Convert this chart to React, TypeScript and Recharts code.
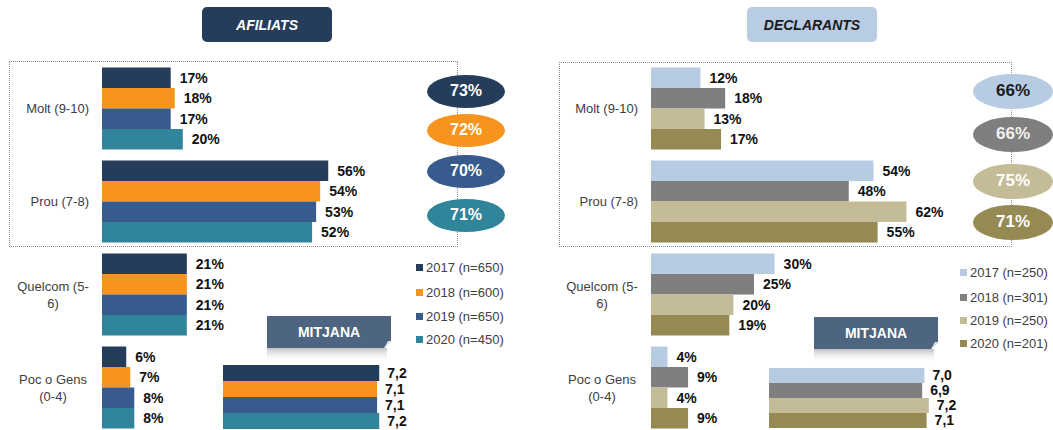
import React from "react";
import { BarChart, Bar, XAxis, YAxis, LabelList } from "recharts";

const FONT = '"Liberation Sans", Arial, sans-serif';

const categories = ["Molt (9-10)", "Prou (7-8)", "Quelcom (5-\n6)", "Poc o Gens\n(0-4)"];
const years = ["2017", "2018", "2019", "2020"];

const afiliats2017 = [17, 56, 21, 6];
const afiliats2018 = [18, 54, 21, 7];
const afiliats2019 = [17, 53, 21, 8];
const afiliats2020 = [20, 52, 21, 8];
const afiliatsTotal = [73, 72, 70, 71];
const afiliatsMitjana = [7.2, 7.1, 7.1, 7.2];
const afiliatsN = [650, 600, 650, 450];

const declarants2017 = [12, 54, 30, 4];
const declarants2018 = [18, 48, 25, 9];
const declarants2019 = [13, 62, 20, 4];
const declarants2020 = [17, 55, 19, 9];
const declarantsTotal = [66, 66, 75, 71];
const declarantsMitjana = [7.0, 6.9, 7.2, 7.1];
const declarantsN = [250, 301, 250, 201];

const afiliatsColors = ["#253d5b", "#f7941e", "#375b8d", "#31859b"];
const declarantsColors = ["#b7cbe3", "#7f7f7f", "#c4bc96", "#958a54"];
const declarantsTotalText = ["#1a1a1a", "#f2f2f2", "#ffffff", "#ffffff"];

const AXIS_W = 100;
const keys = ["s0", "s1", "s2", "s3"];

function buildRows(series: number[][]) {
  return categories.map((cat, i) => {
    const row: any = { cat };
    series.forEach((s, k) => (row[keys[k]] = s[i]));
    return row;
  });
}

function buildMean(values: number[]) {
  const row: any = { cat: "Mitjana" };
  values.forEach((v, k) => (row[keys[k]] = v));
  return [row];
}

const CatTick = (props: any) => {
  const { y, payload } = props;
  const lines = String(payload.value).split("\n");
  const common = { fontFamily: FONT, fontSize: 13, fill: "#404040" };
  if (lines.length === 1) {
    return (
      <text {...common} x={AXIS_W - 13} y={y + 4.5} textAnchor="end">
        {lines[0]}
      </text>
    );
  }
  return (
    <text {...common} textAnchor="middle">
      <tspan x={AXIS_W - 49} y={y - 8 + 4.5}>{lines[0]}</tspan>
      <tspan x={AXIS_W - 49} y={y + 9 + 4.5}>{lines[1]}</tspan>
    </text>
  );
};

const pct = (v: any) => `${v}%`;
const dec = (v: any) => Number(v).toFixed(1).replace(".", ",");

function MainChart({ series, colors, left, pxPer }: { series: number[][]; colors: string[]; left: number; pxPer: number }) {
  const plotW = 80 * pxPer;
  const width = 430;
  return (
    <div style={{ position: "absolute", left, top: 0 }}>
      <BarChart
        width={width}
        height={440}
        layout="vertical"
        data={buildRows(series)}
        margin={{ top: 61.5, bottom: 6.5, left: 0, right: width - AXIS_W - plotW }}
        barGap={0}
        barSize={20.5}
      >
        <XAxis type="number" domain={[0, 80]} hide />
        <YAxis type="category" dataKey="cat" width={AXIS_W} axisLine={false} tickLine={false} interval={0} tick={<CatTick />} />
        {keys.map((k, i) => (
          <Bar key={k} dataKey={k} fill={colors[i]} isAnimationActive={false}>
            <LabelList dataKey={k} position="right" offset={9} formatter={pct} fill="#111" fontSize={14} fontWeight="bold" fontFamily={FONT} />
          </Bar>
        ))}
      </BarChart>
    </div>
  );
}

function MeanChart({ values, colors, left, top, barH, pxPer }: { values: number[]; colors: string[]; left: number; top: number; barH: number; pxPer: number }) {
  const plotW = 9 * pxPer;
  const width = 210;
  // a little spare room in the band so the bars keep their full size
  const height = barH * 4 + 4;
  return (
    <div style={{ position: "absolute", left, top: top - 2 }}>
      <BarChart
        width={width}
        height={height}
        layout="vertical"
        data={buildMean(values)}
        margin={{ top: 0, bottom: 0, left: 0, right: width - plotW }}
        barGap={0}
        barCategoryGap={0}
        barSize={barH}
      >
        <XAxis type="number" domain={[0, 9]} hide />
        <YAxis type="category" dataKey="cat" hide />
        {keys.map((k, i) => (
          <Bar key={k} dataKey={k} fill={colors[i]} isAnimationActive={false}>
            <LabelList dataKey={k} position="right" offset={8} formatter={dec} fill="#111" fontSize={14} fontWeight="bold" fontFamily={FONT} />
          </Bar>
        ))}
      </BarChart>
    </div>
  );
}

function TitleBox({ text, left, bg, color }: { text: string; left: number; bg: string; color: string }) {
  return (
    <div
      style={{
        position: "absolute", left, top: 7, width: 130, height: 35, background: bg, borderRadius: 5,
        color, fontFamily: FONT, fontWeight: "bold", fontStyle: "italic", fontSize: 14,
        display: "flex", alignItems: "center", justifyContent: "center",
      }}
    >
      {text}
    </div>
  );
}

function Banner({ left, top }: { left: number; top: number }) {
  return (
    <svg style={{ position: "absolute", left, top }} width={126} height={48}>
      <defs>
        <linearGradient id={`sh${left}`} x1="0" y1="0" x2="0" y2="1">
          <stop offset="0%" stopColor="#8c8c8c" stopOpacity={0.55} />
          <stop offset="100%" stopColor="#ffffff" stopOpacity={0} />
        </linearGradient>
      </defs>
      <rect x={0} y={32} width={120} height={14} fill={`url(#sh${left})`} />
      <path d="M0,0 H124 V25 L117,32 H0 Z" fill="#4d6580" />
      <path d="M124,25 L117,32 L121,25 Z" fill="#dfe4ea" />
      <text x={62} y={21} textAnchor="middle" fill="#fff" fontFamily={FONT} fontWeight="bold" fontSize={14}>MITJANA</text>
    </svg>
  );
}

function Ovals({ values, colors, textColors, cx, cys, rx, ry, fontSize }: { values: number[]; colors: string[]; textColors: string[]; cx: number; cys: number[]; rx: number; ry: number; fontSize: number }) {
  return (
    <>
      {values.map((v, i) => (
        <div
          key={i}
          style={{
            position: "absolute", left: cx - rx, top: cys[i] - ry, width: rx * 2, height: ry * 2, borderRadius: "50%",
            background: colors[i], color: textColors[i], fontFamily: FONT, fontWeight: "bold", fontSize,
            display: "flex", alignItems: "center", justifyContent: "center",
          }}
        >
          {v}%
        </div>
      ))}
    </>
  );
}

function Legend({ n, colors, left, tops }: { n: number[]; colors: string[]; left: number; tops: number[] }) {
  return (
    <>
      {years.map((y, i) => (
        <div key={y} style={{ position: "absolute", left, top: tops[i] - 8, height: 16, display: "flex", alignItems: "center", fontFamily: FONT, fontSize: 13, color: "#404040", whiteSpace: "nowrap" }}>
          <span style={{ display: "inline-block", width: 7, height: 7, background: colors[i], marginRight: 3 }} />
          {y} (n={n[i]})
        </div>
      ))}
    </>
  );
}

export default function App() {
  return (
    <div style={{ position: "absolute", left: 0, top: 0, width: 1053, height: 430, overflow: "hidden", background: "#fff" }}>
      <TitleBox text="AFILIATS" left={202} bg="#253d5b" color="#fff" />
      <TitleBox text="DECLARANTS" left={747} bg="#b8cce4" color="#1a1a1a" />

      <div style={{ position: "absolute", left: 9, top: 61, width: 449, height: 186, border: "1px dotted #8c8c8c", boxSizing: "border-box" }} />
      <div style={{ position: "absolute", left: 559, top: 62, width: 453, height: 185, border: "1px dotted #8c8c8c", boxSizing: "border-box" }} />

      <MainChart series={[afiliats2017, afiliats2018, afiliats2019, afiliats2020]} colors={afiliatsColors} left={2} pxPer={4.04} />
      <MainChart series={[declarants2017, declarants2018, declarants2019, declarants2020]} colors={declarantsColors} left={551} pxPer={4.12} />

      <Banner left={267} top={316} />
      <Banner left={814} top={317} />

      <MeanChart values={afiliatsMitjana} colors={afiliatsColors} left={223} top={365} barH={16} pxPer={21.7} />
      <MeanChart values={declarantsMitjana} colors={declarantsColors} left={769} top={368} barH={15} pxPer={22.2} />

      <Ovals values={afiliatsTotal} colors={afiliatsColors} textColors={["#fff", "#fff", "#fff", "#fff"]} cx={466} cys={[91, 130, 171, 215]} rx={39} ry={16.5} fontSize={16} />
      <Ovals values={declarantsTotal} colors={declarantsColors} textColors={declarantsTotalText} cx={1013} cys={[91, 134, 181, 222]} rx={40} ry={17.5} fontSize={17} />

      <Legend n={afiliatsN} colors={afiliatsColors} left={416} tops={[267, 292, 316, 339]} />
      <Legend n={declarantsN} colors={declarantsColors} left={960} tops={[272, 297, 320, 343]} />
    </div>
  );
}
